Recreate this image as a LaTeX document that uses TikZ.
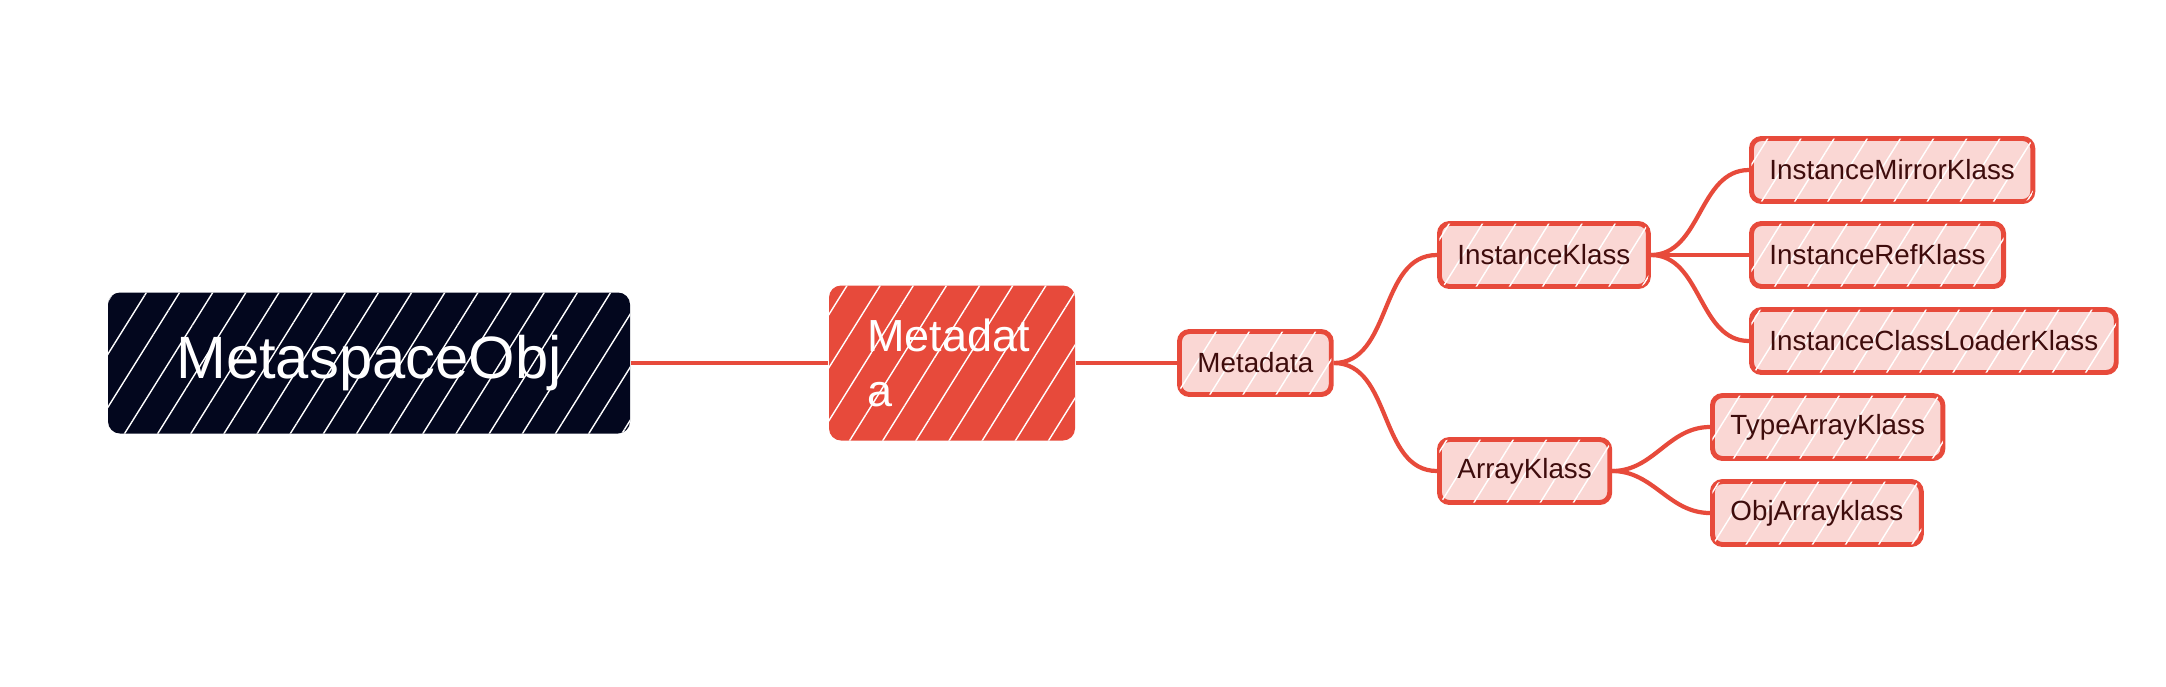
\documentclass[tikz,border=0pt]{standalone}
\usepackage{fontspec}
\setmainfont{Liberation Sans}
\usetikzlibrary{positioning, patterns.meta}
\definecolor{navy}{RGB}{3,7,30}
\definecolor{mmred}{RGB}{231,74,59}
\definecolor{mmpink}{RGB}{250,215,212}
\definecolor{mmtext}{RGB}{62,12,12}

\begin{document}
\begin{tikzpicture}[
    hatch/.style={postaction={pattern={Lines[angle=58, distance=8pt, line width=0.4pt]},
        pattern color=white}},
    rootbox/.style={fill=navy, rounded corners=0.12cm, minimum width=5.22cm,
        minimum height=1.41cm, text=white, font=\fontsize{17}{20}\selectfont, hatch},
    mainbox/.style={fill=mmred, rounded corners=0.12cm, text width=1.7cm,
        inner xsep=0.38cm, minimum height=1.55cm, align=left, text=white,
        font=\fontsize{12.8}{15.6}\selectfont, hatch},
    leafbox/.style={fill=mmpink, draw=mmred, line width=1.4pt, rounded corners=0.1cm,
        minimum height=0.63cm, inner xsep=0.18cm, text=mmtext,
        font=\fontsize{7.9}{9}\selectfont, hatch},
    link/.style={draw=mmred, line width=1.2pt}
]
    \useasboundingbox (0, 0) rectangle (21.66, 6.86);
    \node[rootbox] (obj) at (3.69, 3.23) {MetaspaceObj};
    \node[mainbox] (md) at (9.52, 3.23) {Metadat\\a};
    \node[leafbox, anchor=west] (mds) at (11.77, 3.23) {Metadata};
    \node[leafbox, anchor=west] (ik) at (14.37, 4.31) {InstanceKlass};
    \node[leafbox, anchor=west] (ak) at (14.37, 2.15) {ArrayKlass};
    \node[leafbox, anchor=west] (imk) at (17.49, 5.16) {InstanceMirrorKlass};
    \node[leafbox, anchor=west] (irk) at (17.49, 4.31) {InstanceRefKlass};
    \node[leafbox, anchor=west] (iclk) at (17.49, 3.45) {InstanceClassLoaderKlass};
    \node[leafbox, anchor=west] (tak) at (17.10, 2.59) {TypeArrayKlass};
    \node[leafbox, anchor=west] (oak) at (17.10, 1.73) {ObjArrayklass};
    \draw[link] (obj.east) -- (md.west);
    \draw[link] (md.east) -- (mds.west);
    \draw[link] (mds.east) to[out=0, in=180] (ik.west);
    \draw[link] (mds.east) to[out=0, in=180] (ak.west);
    \draw[link] (ik.east) to[out=0, in=180] (imk.west);
    \draw[link] (ik.east) -- (irk.west);
    \draw[link] (ik.east) to[out=0, in=180] (iclk.west);
    \draw[link] (ak.east) to[out=0, in=180] (tak.west);
    \draw[link] (ak.east) to[out=0, in=180] (oak.west);
\end{tikzpicture}
\end{document}
